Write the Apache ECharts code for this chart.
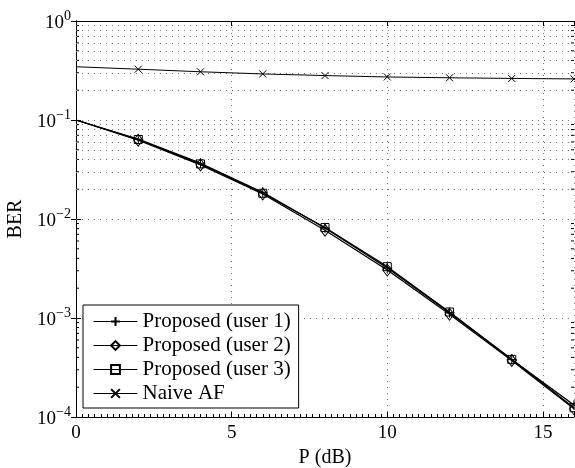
<!DOCTYPE html>
<html>
<head>
<meta charset="utf-8">
<script src="https://cdn.jsdelivr.net/npm/echarts@6/dist/echarts.min.js"></script>
<style>html,body{margin:0;padding:0;background:#fff;}#c{width:575px;height:468px;}</style>
</head>
<body>
<div id="c"></div>
<script>
const P = [0, 2, 4, 6, 8, 10, 12, 14, 16];
const user1 = [0.1, 0.064, 0.0366, 0.0186, 0.0081, 0.0032, 0.00113, 0.00038, 0.000132];
const user2 = [0.1, 0.0625, 0.0352, 0.0179, 0.0077, 0.00305, 0.00109, 0.000372, 0.000121];
const user3 = [0.1, 0.0635, 0.036, 0.0182, 0.0082, 0.0033, 0.00115, 0.000382, 0.000124];
const naive = [0.345, 0.326, 0.307, 0.292, 0.281, 0.272, 0.267, 0.263, 0.26];
const seriesNames = ['Proposed (user 1)', 'Proposed (user 2)', 'Proposed (user 3)', 'Naive AF'];
const xTicks = [0, 5, 10, 15];
const yDecades = [1e-4, 1e-3, 1e-2, 1e-1];
const minorMult = [2, 3, 4, 5, 6, 7, 8, 9];

const serif = 'Liberation Serif';
const minorVals = [];
yDecades.forEach(d => minorMult.forEach(m => minorVals.push(d * m)));

function pts(ys) {
  return P.map((x, i) => i === 0 ? {value: [x, ys[i]], symbol: 'none'} : [x, ys[i]]);
}
const plusPath = 'path://M5,0L5,10M0,5L10,5';
const xPath = 'path://M0,0L10,10M0,10L10,0';
const gridStyle = {color: '#777', width: 1, type: [1, 5]};
const mk = (name, ys, symbol, size, width) => ({
  name, type: 'line', data: pts(ys), symbol, symbolSize: size, showSymbol: true,
  lineStyle: {color: '#000', width},
  itemStyle: {color: 'rgba(0,0,0,0)', borderColor: '#000', borderWidth: 1},
  z: 5
});

const chart = echarts.init(document.getElementById('c'), null, {renderer: 'canvas'});
const option = {
  animation: false,
  backgroundColor: '#fff',
  grid: {left: 76, right: 1, top: 21, bottom: 51, containLabel: false, outerBoundsMode: 'none'},
  xAxis: [{
    type: 'value', min: 0, max: 16, interval: 5,
    axisLine: {lineStyle: {color: '#000', width: 1}},
    axisTick: {inside: true, length: 5, lineStyle: {color: '#000'}},
    minorTick: {show: true, splitNumber: 25, length: 3, lineStyle: {color: '#000'}},
    axisLabel: {color: '#000', fontFamily: serif, fontSize: 19, margin: 7, showMaxLabel: false,
      formatter: v => xTicks.includes(v) ? String(v) : ''},
    splitLine: {show: true, lineStyle: gridStyle},
    name: 'P (dB)', nameLocation: 'middle', nameGap: 30,
    nameTextStyle: {color: '#000', fontFamily: serif, fontSize: 20}
  }, {
    type: 'value', min: 0, max: 16, interval: 5, position: 'top',
    axisLine: {lineStyle: {color: '#000', width: 1}},
    axisTick: {inside: true, length: 5, lineStyle: {color: '#000'}},
    axisLabel: {show: false}, splitLine: {show: false}
  }],
  yAxis: [{
    type: 'log', logBase: 10, min: 1e-4, max: 1,
    axisLine: {show: true, lineStyle: {color: '#000', width: 1}},
    axisTick: {show: true, inside: true, length: 5, lineStyle: {color: '#000'}},
    axisLabel: {
      margin: 5,
      formatter: v => {
        const e = Math.round(Math.log10(v));
        return '{b|10}{s|' + (e < 0 ? '\u2212' + (-e) : e) + '}';
      },
      rich: {
        b: {fontFamily: serif, fontSize: 19, color: '#000', lineHeight: 23, verticalAlign: 'bottom'},
        s: {fontFamily: serif, fontSize: 14, color: '#000', lineHeight: 14, verticalAlign: 'top'}
      }
    },
    splitLine: {show: true, lineStyle: gridStyle},
    name: 'BER', nameLocation: 'middle', nameGap: 45, nameRotate: 90,
    nameTextStyle: {color: '#000', fontFamily: serif, fontSize: 20}
  }, {
    type: 'log', logBase: 10, min: 1e-4, max: 1, position: 'right',
    axisLine: {show: true, lineStyle: {color: '#000', width: 1}},
    axisTick: {show: true, inside: true, length: 5, lineStyle: {color: '#000'}},
    axisLabel: {show: false}, splitLine: {show: false}
  }],
  legend: {
    orient: 'vertical', left: 83, top: 305,
    backgroundColor: '#fff', borderColor: '#000', borderWidth: 1,
    padding: [6, 8, 4, 10], itemGap: 3, itemWidth: 44, itemHeight: 11,
    lineStyle: {width: 1},
    textStyle: {color: '#000', fontFamily: serif, fontSize: 21},
    data: seriesNames
  },
  series: [
    mk(seriesNames[0], user1, plusPath, 10, 1.3),
    mk(seriesNames[1], user2, 'diamond', [9, 12], 1.3),
    mk(seriesNames[2], user3, 'rect', 8, 1.3),
    mk(seriesNames[3], naive, xPath, 7, 1),
    {
      type: 'custom', silent: true, z: 1,
      data: minorVals.map(v => [0, v]),
      renderItem: (params, api) => {
        const v = api.value(1);
        const a = api.coord([0, v]);
        const b = api.coord([16, v]);
        return {type: 'group', children: [
          {type: 'line', shape: {x1: a[0], y1: a[1], x2: a[0] + 3, y2: a[1]}, style: {stroke: '#000', lineWidth: 1}},
          {type: 'line', shape: {x1: b[0] - 3, y1: b[1], x2: b[0], y2: b[1]}, style: {stroke: '#000', lineWidth: 1}}
        ]};
      },
      markLine: {
        silent: true, symbol: 'none', label: {show: false},
        lineStyle: gridStyle,
        data: minorVals.map(v => ({yAxis: v}))
      }
    }
  ]
};
chart.setOption(option);
</script>
</body>
</html>
